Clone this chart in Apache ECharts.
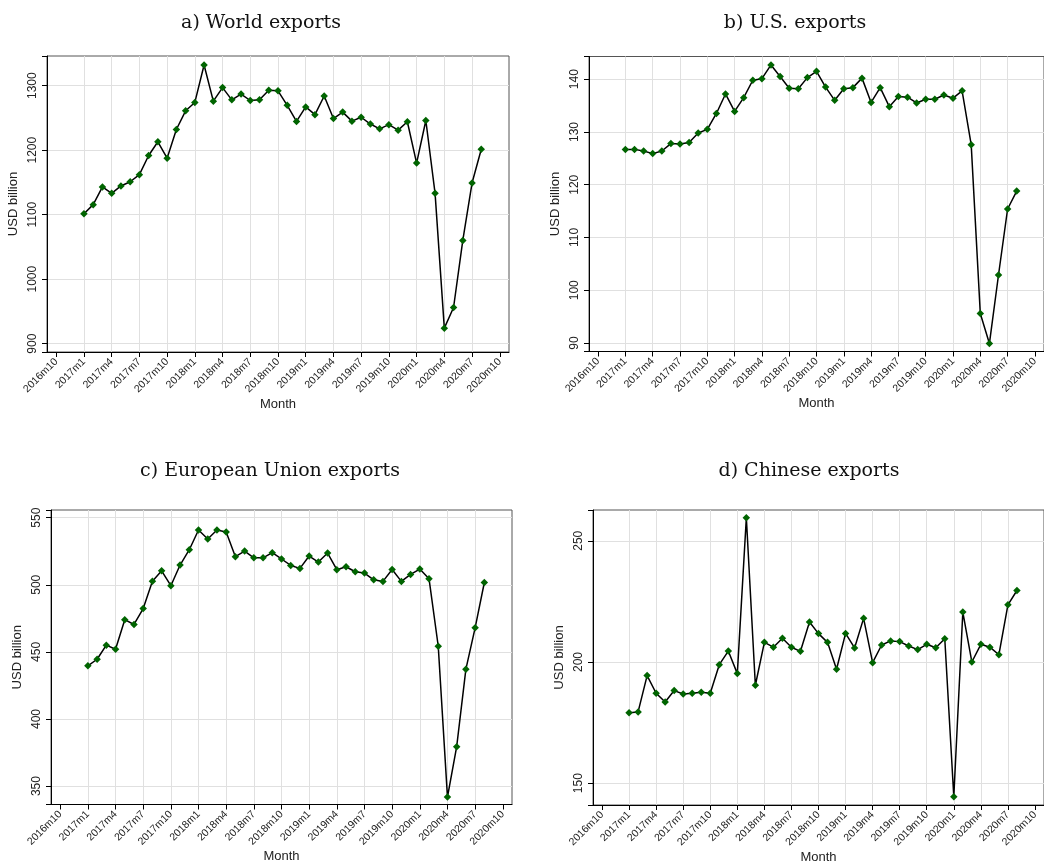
<!DOCTYPE html>
<html>
<head>
<meta charset="utf-8">
<title>Monthly exports</title>
<script src="https://cdn.jsdelivr.net/npm/echarts@6/dist/echarts.min.js"></script>
<style>
  html, body { margin: 0; padding: 0; background: #ffffff; }
  #chart { width: 1044px; height: 865px; }
</style>
</head>
<body>
<div id="chart"></div>
<script>
// Months with observations
const months = [
  '2017m1','2017m2','2017m3','2017m4','2017m5','2017m6','2017m7','2017m8','2017m9','2017m10','2017m11','2017m12',
  '2018m1','2018m2','2018m3','2018m4','2018m5','2018m6','2018m7','2018m8','2018m9','2018m10','2018m11','2018m12',
  '2019m1','2019m2','2019m3','2019m4','2019m5','2019m6','2019m7','2019m8','2019m9','2019m10','2019m11','2019m12',
  '2020m1','2020m2','2020m3','2020m4','2020m5','2020m6','2020m7','2020m8'
];
// Axis runs one month beyond the first and last labelled ticks
const leadMonths = ['2016m9','2016m10','2016m11','2016m12'];
const tailMonths = ['2020m9','2020m10','2020m11'];
const axisMonths = leadMonths.concat(months, tailMonths);

// Exports, USD billion
const worldExports = [
  1101.5, 1115.5, 1143, 1133, 1144.5, 1151, 1162, 1191.7, 1213, 1187.6, 1232, 1261,
  1274, 1332, 1276, 1297, 1278, 1287, 1277, 1278, 1293, 1292, 1269.5, 1244.6,
  1267, 1255, 1284, 1249, 1259, 1245, 1251, 1240.5, 1233, 1239.5, 1231, 1244,
  1180, 1246, 1133, 924, 956, 1060, 1149, 1201.5
];
const usExports = [
  126.7, 126.7, 126.4, 125.9, 126.4, 127.8, 127.7, 128.0, 129.8, 130.5, 133.5, 137.2,
  133.9, 136.5, 139.8, 140.1, 142.7, 140.5, 138.3, 138.2, 140.3, 141.5, 138.5, 136.0,
  138.2, 138.4, 140.2, 135.6, 138.4, 134.8, 136.7, 136.6, 135.5, 136.2, 136.2, 137.0,
  136.4, 137.8, 127.6, 95.6, 89.9, 102.9, 115.4, 118.8
];
const euExports = [
  439.6, 444.5, 455, 452, 474, 470.4, 482.3, 502.7, 510.4, 499.3, 514.7, 526.1,
  540.8, 534.1, 540.8, 539.3, 520.9, 525.1, 520.1, 520.1, 523.9, 519.2, 514.4, 512.2,
  521.4, 516.9, 523.6, 511.2, 513.4, 509.7, 508.7, 503.7, 502.5, 511.4, 502.5, 507.7,
  511.7, 504.5, 454.2, 341.8, 379.4, 437.1, 467.9, 501.7
];
const chinaExports = [
  179.1, 179.4, 194.4, 187.1, 183.5, 188.2, 186.8, 187.1, 187.5, 187.1, 198.9, 204.5,
  195.2, 259.5, 190.4, 208.1, 206.1, 209.8, 206.1, 204.4, 216.5, 211.7, 208.1, 197.0,
  211.8, 205.8, 218.0, 199.7, 207.0, 208.7, 208.4, 206.6, 205.1, 207.3, 205.9, 209.6,
  144.4, 220.6, 200.0, 207.3, 206.1, 203.0, 223.6, 229.5
];

const panels = [
  { title: 'a) World exports', values: worldExports,
    grid: { left: 47, top: 56, width: 462, height: 296 },
    yMin: 887, yMax: 1346, step: 100, splitNumber: 5, titleX: 256, titleY: 9 },
  { title: 'b) U.S. exports', values: usExports,
    grid: { left: 589, top: 56.5, width: 462, height: 295 },
    yMin: 88.4, yMax: 144.3, step: 10, splitNumber: 5, titleX: 790, titleY: 9 },
  { title: 'c) European Union exports', values: euExports,
    grid: { left: 51, top: 510, width: 461, height: 294.5 },
    yMin: 336.3, yMax: 555.7, step: 50, splitNumber: 5, titleX: 265, titleY: 457 },
  { title: 'd) Chinese exports', values: chinaExports,
    grid: { left: 593, top: 510, width: 462, height: 295 },
    yMin: 141, yMax: 262.7, step: 50, splitNumber: 2, titleX: 804, titleY: 457 }
];

const isTick = (i) => i % 3 === 1;
const isInnerTick = (i) => i % 3 === 1 && i !== 1 && i !== axisMonths.length - 2;

const sansFont = '"Liberation Sans", Arial, sans-serif';
const gridColor = '#e0e0e0';
const markColor = '#006400';

const option = {
  animation: false,
  backgroundColor: '#ffffff',
  title: panels.map(p => ({
    text: p.title,
    left: p.titleX,
    top: p.titleY,
    textAlign: 'center',
    textStyle: { fontFamily: '"DejaVu Serif", serif', fontSize: 19, fontWeight: 'normal', color: '#111' }
  })),
  grid: panels.map(p => Object.assign({
    show: true, borderColor: '#555', borderWidth: 1, backgroundColor: '#ffffff', containLabel: false
  }, p.grid)),
  xAxis: panels.map((p, k) => ({
    type: 'category',
    gridIndex: k,
    data: axisMonths,
    boundaryGap: false,
    name: 'Month',
    nameLocation: 'middle',
    nameGap: 43,
    nameTextStyle: { fontFamily: sansFont, fontSize: 13, color: '#222' },
    axisLine: { show: true, lineStyle: { color: '#000', width: 1 } },
    axisTick: { show: true, interval: isTick, length: 5, lineStyle: { color: '#000' } },
    axisLabel: { interval: isTick, rotate: 45, margin: 8, fontFamily: sansFont, fontSize: 10.5, color: '#222' },
    splitLine: { show: true, interval: isInnerTick, lineStyle: { color: gridColor, width: 1 } }
  })),
  yAxis: panels.map((p, k) => ({
    type: 'value',
    gridIndex: k,
    min: p.yMin,
    max: p.yMax,
    splitNumber: p.splitNumber,
    name: 'USD billion',
    nameLocation: 'middle',
    nameGap: 27,
    nameTextStyle: { fontFamily: sansFont, fontSize: 13, color: '#222' },
    axisLine: { show: true, lineStyle: { color: '#000', width: 1 } },
    axisTick: { show: true, length: 5, lineStyle: { color: '#000' } },
    axisLabel: {
      rotate: 90, margin: 8, fontFamily: sansFont, fontSize: 12, color: '#222',
      formatter: (v) => (Math.abs(v / p.step - Math.round(v / p.step)) < 1e-6 ? String(Math.round(v)) : '')
    },
    splitLine: { show: true, showMinLine: false, showMaxLine: false, lineStyle: { color: gridColor, width: 1 } }
  })),
  series: panels.map((p, k) => ({
    type: 'line',
    xAxisIndex: k,
    yAxisIndex: k,
    data: months.map((m, i) => [m, p.values[i]]),
    showAllSymbol: true,
    symbol: 'diamond',
    symbolSize: 7.5,
    itemStyle: { color: markColor },
    lineStyle: { color: '#000', width: 1.5 },
    emphasis: { disabled: true }
  }))
};

const chart = echarts.init(document.getElementById('chart'), null, { renderer: 'canvas' });
chart.setOption(option);
</script>
</body>
</html>
